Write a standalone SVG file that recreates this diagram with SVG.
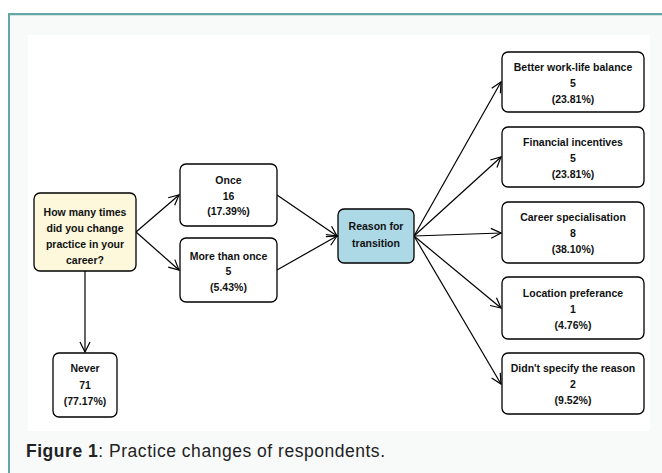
<svg xmlns="http://www.w3.org/2000/svg" width="662" height="473" viewBox="0 0 662 473">
<defs>
<marker id="arr" viewBox="0 0 12 12" refX="11" refY="6" markerWidth="12" markerHeight="12" markerUnits="userSpaceOnUse" orient="auto">
<path d="M1,1 L11,6 L1,11" fill="none" stroke="#000" stroke-width="1.2"/>
</marker>
<style>
.box{fill:#fff;stroke:#000;stroke-width:1.3}
.t{font-family:"Liberation Sans",Arial,sans-serif;font-size:10.5px;font-weight:bold;fill:#111;text-anchor:middle}
.c{stroke:#000;stroke-width:1.2;fill:none;marker-end:url(#arr)}
</style>
</defs>
<rect x="0" y="0" width="662" height="473" fill="#fff"/>
<rect x="8" y="13" width="660" height="470" fill="#f8fafa"/>
<line x1="8" y1="14" x2="662" y2="14" stroke="#64a6a6" stroke-width="2"/>
<line x1="8" y1="15.5" x2="662" y2="15.5" stroke="#cfe3e3" stroke-width="1"/>
<line x1="9" y1="13" x2="9" y2="473" stroke="#64a6a6" stroke-width="2"/>
<rect x="28" y="35" width="622" height="396" fill="#fff"/>
<g id="connectors">
<line class="c" x1="136" y1="232" x2="179" y2="195"/>
<line class="c" x1="136" y1="232" x2="179" y2="270"/>
<line class="c" x1="85" y1="271" x2="85" y2="352"/>
<line class="c" x1="277" y1="195" x2="337" y2="236"/>
<line class="c" x1="277" y1="270" x2="337" y2="236"/>
<line class="c" x1="414" y1="236" x2="501" y2="82"/>
<line class="c" x1="414" y1="236" x2="501" y2="157"/>
<line class="c" x1="414" y1="236" x2="501" y2="233"/>
<line class="c" x1="414" y1="236" x2="501" y2="308"/>
<line class="c" x1="414" y1="236" x2="501" y2="384"/>
</g>
<g id="question">
<rect x="34" y="193" width="102" height="78" rx="6" fill="#fdf8dc" stroke="#000" stroke-width="1.3"/>
<text class="t" x="85" y="216">How many times</text>
<text class="t" x="85" y="232">did you change</text>
<text class="t" x="85" y="248">practice in your</text>
<text class="t" x="85" y="264">career?</text>
</g>
<g id="once">
<rect class="box" x="180" y="164" width="97" height="62" rx="6"/>
<text class="t" x="228.5" y="184">Once</text>
<text class="t" x="228.5" y="200">16</text>
<text class="t" x="228.5" y="215">(17.39%)</text>
</g>
<g id="more">
<rect class="box" x="180" y="238" width="97" height="64" rx="6"/>
<text class="t" x="228.5" y="260">More than once</text>
<text class="t" x="228.5" y="275">5</text>
<text class="t" x="228.5" y="291">(5.43%)</text>
</g>
<g id="never">
<rect class="box" x="53" y="353" width="64" height="64" rx="6"/>
<text class="t" x="85" y="372">Never</text>
<text class="t" x="85" y="389">71</text>
<text class="t" x="85" y="405">(77.17%)</text>
</g>
<g id="reason">
<rect x="338" y="209" width="76" height="54" rx="6" fill="#add8e6" stroke="#000" stroke-width="1.3"/>
<text class="t" x="376" y="230">Reason for</text>
<text class="t" x="376" y="247">transition</text>
</g>
<g id="better">
<rect class="box" x="502" y="52" width="142" height="60" rx="6"/>
<text class="t" x="573" y="71">Better work-life balance</text>
<text class="t" x="573" y="87">5</text>
<text class="t" x="573" y="103">(23.81%)</text>
</g>
<g id="financial">
<rect class="box" x="502" y="127" width="142" height="60" rx="6"/>
<text class="t" x="573" y="146">Financial incentives</text>
<text class="t" x="573" y="162">5</text>
<text class="t" x="573" y="178">(23.81%)</text>
</g>
<g id="career">
<rect class="box" x="502" y="202" width="142" height="61" rx="6"/>
<text class="t" x="573" y="221">Career specialisation</text>
<text class="t" x="573" y="237">8</text>
<text class="t" x="573" y="253">(38.10%)</text>
</g>
<g id="location">
<rect class="box" x="502" y="277" width="142" height="62" rx="6"/>
<text class="t" x="573" y="297">Location preferance</text>
<text class="t" x="573" y="313">1</text>
<text class="t" x="573" y="329">(4.76%)</text>
</g>
<g id="unspecified">
<rect class="box" x="502" y="353" width="142" height="61" rx="6"/>
<text class="t" x="573" y="372">Didn't specify the reason</text>
<text class="t" x="573" y="388">2</text>
<text class="t" x="573" y="404">(9.52%)</text>
</g>
<text x="26" y="457" font-family="'Liberation Sans',Arial,sans-serif" font-size="17.5px" fill="#222" textLength="359" lengthAdjust="spacing"><tspan font-weight="bold">Figure 1</tspan>: Practice changes of respondents.</text>
</svg>
